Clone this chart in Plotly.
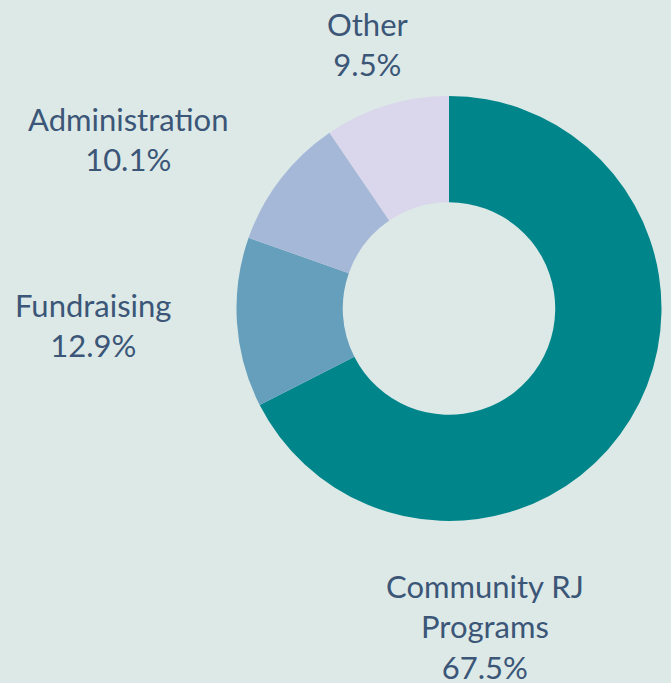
import plotly.graph_objects as go

categories = ["Community RJ Programs", "Fundraising", "Administration", "Other"]
display_names = ["Community RJ<br>Programs", "Fundraising", "Administration", "Other"]
shares = [67.5, 12.9, 10.1, 9.5]
colors = ["#00868a", "#659fbc", "#a6b8d8", "#dad6eb"]

# label block centres (pixels from top-left), layout only
label_pos = [(485, 626), (93, 325), (128, 139), (368, 44)]

W, H = 671, 683
cx, cy, r = 449, 308.5, 212.5
BG = "#dde9e7"
TXT = "#3b5677"

fig = go.Figure(go.Pie(
    labels=categories,
    values=shares,
    textinfo="none",
    hole=0.5,
    sort=False,
    direction="clockwise",
    rotation=0,
    marker=dict(colors=colors, line=dict(width=0)),
    showlegend=False,
    hoverinfo="label+percent",
    domain=dict(x=[(cx - r) / W, (cx + r) / W], y=[1 - (cy + r) / H, 1 - (cy - r) / H]),
))

total = sum(shares)
for name, v, (px, py) in zip(display_names, shares, label_pos):
    fig.add_annotation(
        x=px / W, y=1 - py / H, xref="paper", yref="paper",
        text=f"{name}<br>{100 * v / total:.1f}%",
        showarrow=False, xanchor="center", yanchor="middle", align="center",
        font=dict(family="Lato", size=31, color=TXT),
    )

fig.update_layout(
    width=W, height=H,
    margin=dict(l=0, r=0, t=0, b=0),
    paper_bgcolor=BG,
    plot_bgcolor=BG,
    font=dict(family="Lato", color=TXT),
)

fig.write_html(
    "out.html",
    config={"displayModeBar": False},
    post_script=f"document.body.style.margin='0';document.body.style.background='{BG}';document.body.style.overflow='hidden';",
)
